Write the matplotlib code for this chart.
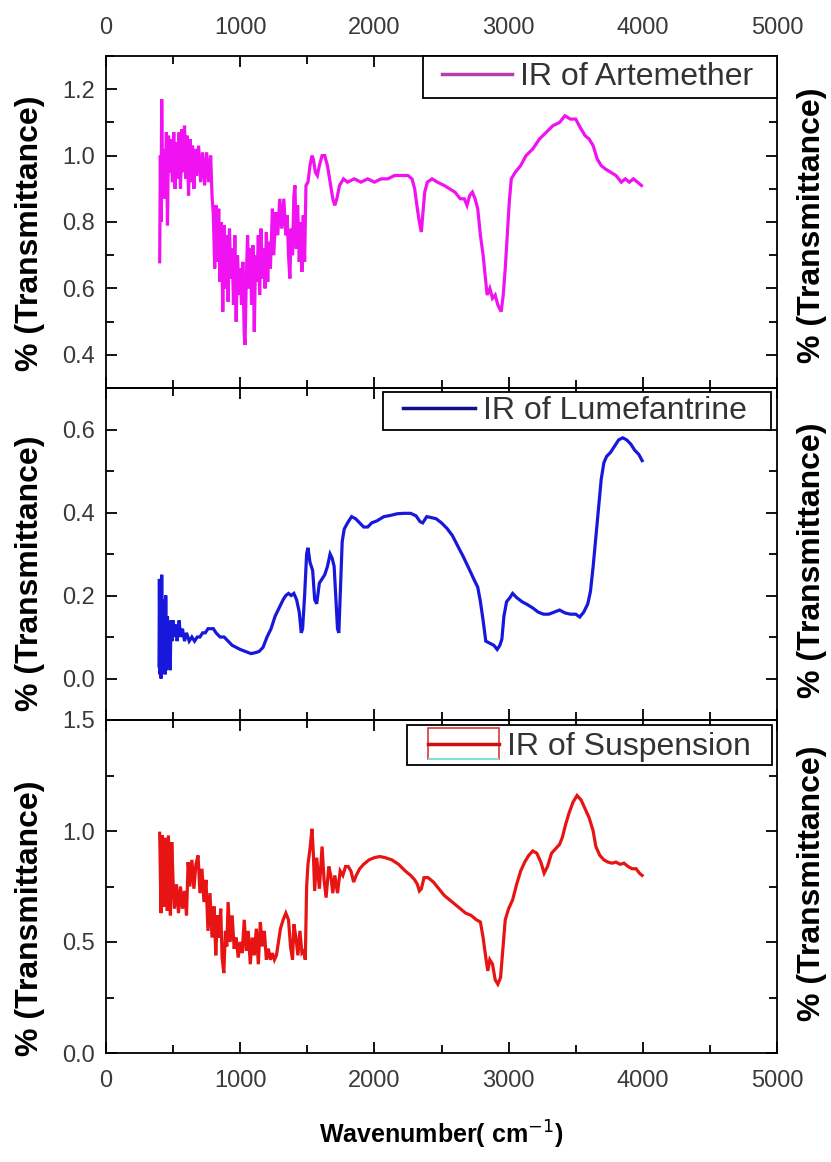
import matplotlib
matplotlib.use("Agg")
import matplotlib.pyplot as plt
from matplotlib import font_manager, ticker
from matplotlib.lines import Line2D
from matplotlib.patches import Rectangle
from matplotlib.legend_handler import HandlerBase

# --- data (wavenumber cm-1, transmittance) ---
art_wn = [400, 405, 410, 415, 422, 430, 440, 450, 458, 466, 475, 485, 495, 505, 515, 525, 535, 545,
          555, 565, 575, 585, 595, 605, 615, 625, 635, 645, 655, 665, 675, 690, 705, 720, 735, 750,
          765, 780, 790, 800, 810, 820, 830, 840, 850, 860, 870, 880, 890, 900, 910, 920, 930, 940,
          950, 960, 970, 980, 990, 1000, 1010, 1020, 1030, 1036, 1045, 1055, 1065, 1075, 1085, 1095,
          1105, 1115, 1125, 1135, 1145, 1155, 1165, 1175, 1185, 1195, 1205, 1215, 1225, 1240, 1250,
          1265, 1280, 1295, 1310, 1325, 1340, 1350, 1360, 1370, 1380, 1390, 1400, 1408, 1418, 1428,
          1440, 1450, 1460, 1470, 1480, 1490, 1505, 1520, 1535, 1545, 1560, 1575, 1590, 1610, 1630,
          1650, 1670, 1690, 1705, 1720, 1740, 1770, 1800, 1850, 1900, 1950, 2000, 2050, 2100, 2150,
          2200, 2250, 2280, 2300, 2320, 2335, 2350, 2360, 2375, 2395, 2430, 2470, 2520, 2560, 2600,
          2640, 2670, 2690, 2710, 2730, 2750, 2770, 2790, 2810, 2825, 2840, 2860, 2880, 2900, 2920,
          2945, 2960, 2975, 2990, 3005, 3020, 3050, 3090, 3130, 3180, 3230, 3280, 3330, 3380, 3420,
          3460, 3500, 3540, 3570, 3600, 3630, 3660, 3690, 3720, 3760, 3800, 3840, 3870, 3900, 3930,
          3960, 3990]
art_t = [0.68, 1.00, 0.80, 1.17, 0.90, 1.02, 0.87, 1.07, 0.79, 1.06, 0.95, 1.05, 0.92, 1.07, 0.90,
         1.04, 0.93, 1.07, 0.90, 1.08, 0.95, 1.09, 0.93, 1.06, 0.88, 1.05, 0.92, 1.03, 0.90, 1.02,
         0.94, 1.03, 0.92, 1.01, 0.91, 1.01, 0.92, 1.00, 0.88, 0.82, 0.66, 0.85, 0.68, 0.84, 0.62,
         0.80, 0.53, 0.79, 0.60, 0.76, 0.56, 0.78, 0.63, 0.72, 0.55, 0.76, 0.50, 0.70, 0.58, 0.66,
         0.55, 0.68, 0.46, 0.43, 0.62, 0.76, 0.60, 0.72, 0.55, 0.73, 0.47, 0.70, 0.62, 0.76, 0.58,
         0.78, 0.63, 0.72, 0.60, 0.77, 0.62, 0.74, 0.66, 0.84, 0.70, 0.83, 0.76, 0.87, 0.78, 0.87,
         0.76, 0.82, 0.70, 0.63, 0.78, 0.70, 0.88, 0.91, 0.72, 0.85, 0.68, 0.80, 0.65, 0.82, 0.68,
         0.91, 0.92, 0.97, 1.00, 0.99, 0.95, 0.94, 0.97, 1.00, 1.00, 0.97, 0.92, 0.87, 0.85, 0.87,
         0.91, 0.93, 0.92, 0.93, 0.92, 0.93, 0.92, 0.93, 0.93, 0.94, 0.94, 0.94, 0.93, 0.90, 0.84,
         0.80, 0.77, 0.82, 0.89, 0.92, 0.93, 0.92, 0.91, 0.90, 0.89, 0.87, 0.87, 0.85, 0.88, 0.89,
         0.87, 0.84, 0.76, 0.70, 0.64, 0.58, 0.60, 0.57, 0.58, 0.55, 0.53, 0.58, 0.66, 0.76, 0.86,
         0.93, 0.95, 0.97, 1.00, 1.02, 1.05, 1.07, 1.09, 1.10, 1.12, 1.11, 1.11, 1.08, 1.06, 1.05,
         1.03, 0.99, 0.97, 0.96, 0.95, 0.94, 0.92, 0.93, 0.92, 0.93, 0.92, 0.91]

lum_wn = [395, 398, 402, 406, 410, 415, 420, 425, 430, 435, 440, 445, 450, 458, 465, 470, 478, 485,
          492, 500, 510, 520, 530, 545, 555, 570, 585, 600, 620, 640, 660, 680, 700, 720, 740, 760,
          780, 800, 820, 850, 880, 910, 940, 970, 1000, 1040, 1080, 1110, 1140, 1170, 1200, 1230,
          1260, 1290, 1320, 1340, 1360, 1380, 1400, 1420, 1440, 1455, 1465, 1480, 1495, 1505, 1520,
          1540, 1555, 1570, 1590, 1610, 1630, 1650, 1670, 1685, 1700, 1715, 1725, 1735, 1745, 1760,
          1775, 1800, 1830, 1860, 1890, 1920, 1950, 1980, 2020, 2070, 2120, 2170, 2220, 2270, 2310,
          2340, 2360, 2390, 2420, 2460, 2500, 2540, 2580, 2620, 2660, 2700, 2740, 2770, 2790, 2810,
          2830, 2860, 2890, 2915, 2935, 2950, 2965, 2985, 3010, 3030, 3060, 3100, 3140, 3180, 3220,
          3260, 3300, 3340, 3380, 3420, 3460, 3500, 3530, 3560, 3590, 3610, 3630, 3650, 3670, 3690,
          3710, 3730, 3760, 3790, 3820, 3850, 3880, 3910, 3940, 3970, 3995]
lum_t = [0.03, 0.24, 0.01, 0.16, 0.00, 0.25, 0.02, 0.19, 0.05, 0.14, 0.01, 0.20, 0.02, 0.15, 0.05,
         0.13, 0.02, 0.14, 0.09, 0.14, 0.10, 0.13, 0.09, 0.14, 0.10, 0.12, 0.09, 0.11, 0.09, 0.10,
         0.09, 0.10, 0.10, 0.11, 0.11, 0.12, 0.12, 0.12, 0.11, 0.10, 0.10, 0.09, 0.08, 0.075, 0.07,
         0.065, 0.06, 0.062, 0.065, 0.075, 0.10, 0.12, 0.15, 0.17, 0.19, 0.20, 0.205, 0.20, 0.205,
         0.19, 0.16, 0.11, 0.12, 0.20, 0.30, 0.315, 0.28, 0.26, 0.19, 0.18, 0.23, 0.24, 0.25, 0.27,
         0.30, 0.29, 0.27, 0.18, 0.12, 0.11, 0.20, 0.33, 0.36, 0.375, 0.39, 0.385, 0.375, 0.365,
         0.365, 0.375, 0.38, 0.39, 0.393, 0.397, 0.398, 0.398, 0.392, 0.378, 0.375, 0.39, 0.388,
         0.385, 0.375, 0.362, 0.345, 0.32, 0.295, 0.268, 0.24, 0.22, 0.185, 0.14, 0.09, 0.085, 0.08,
         0.07, 0.08, 0.095, 0.15, 0.185, 0.195, 0.205, 0.195, 0.185, 0.178, 0.17, 0.16, 0.155, 0.155,
         0.16, 0.165, 0.158, 0.155, 0.155, 0.148, 0.16, 0.18, 0.21, 0.27, 0.34, 0.41, 0.48, 0.52,
         0.535, 0.545, 0.56, 0.575, 0.58, 0.575, 0.565, 0.55, 0.54, 0.525]

sus_wn = [400, 410, 420, 430, 440, 455, 465, 480, 490, 500, 510, 525, 540, 555, 570, 585, 600, 612,
          625, 640, 655, 670, 686, 700, 715, 730, 745, 760, 775, 790, 805, 818, 830, 842, 855, 865,
          878, 890, 900, 910, 925, 940, 955, 970, 985, 1000, 1015, 1030, 1045, 1060, 1075, 1090,
          1105, 1120, 1135, 1150, 1165, 1180, 1195, 1210, 1225, 1240, 1255, 1270, 1285, 1300, 1320,
          1340, 1360, 1375, 1390, 1400, 1415, 1430, 1445, 1460, 1475, 1485, 1495, 1505, 1520, 1535,
          1545, 1555, 1570, 1590, 1610, 1625, 1640, 1660, 1675, 1690, 1705, 1725, 1745, 1765, 1785,
          1805, 1825, 1845, 1865, 1890, 1920, 1960, 2000, 2040, 2080, 2130, 2180, 2230, 2270, 2300,
          2320, 2335, 2350, 2370, 2400, 2440, 2480, 2520, 2560, 2600, 2640, 2680, 2720, 2760, 2790,
          2810, 2830, 2845, 2860, 2880, 2900, 2920, 2940, 2955, 2975, 3000, 3030, 3060, 3090, 3120,
          3150, 3180, 3210, 3240, 3265, 3290, 3320, 3350, 3380, 3400, 3425, 3450, 3480, 3510, 3540,
          3570, 3600, 3630, 3650, 3680, 3710, 3740, 3770, 3800, 3830, 3860, 3890, 3920, 3950, 3975,
          3995]
sus_t = [0.99, 0.63, 0.98, 0.66, 0.97, 0.64, 0.98, 0.62, 0.95, 0.77, 0.65, 0.76, 0.63, 0.75, 0.65,
         0.73, 0.62, 0.86, 0.75, 0.87, 0.74, 0.85, 0.89, 0.72, 0.83, 0.68, 0.78, 0.55, 0.72, 0.52,
         0.66, 0.44, 0.62, 0.52, 0.65, 0.43, 0.36, 0.55, 0.48, 0.68, 0.50, 0.62, 0.47, 0.52, 0.43,
         0.50, 0.45, 0.60, 0.46, 0.55, 0.40, 0.52, 0.44, 0.56, 0.40, 0.59, 0.48, 0.55, 0.42, 0.47,
         0.42, 0.45, 0.42, 0.44, 0.50, 0.56, 0.60, 0.63, 0.60, 0.48, 0.42, 0.58, 0.52, 0.44, 0.55,
         0.45, 0.46, 0.42, 0.75, 0.85, 0.92, 1.01, 0.90, 0.73, 0.88, 0.74, 0.93, 0.78, 0.70, 0.84,
         0.80, 0.72, 0.80, 0.72, 0.82, 0.80, 0.84, 0.84, 0.82, 0.77, 0.80, 0.83, 0.85, 0.87, 0.88,
         0.885, 0.88, 0.87, 0.85, 0.82, 0.80, 0.78, 0.76, 0.73, 0.74, 0.79, 0.79, 0.77, 0.74, 0.71,
         0.69, 0.67, 0.65, 0.63, 0.62, 0.60, 0.59, 0.52, 0.43, 0.37, 0.42, 0.40, 0.33, 0.31, 0.34,
         0.45, 0.60, 0.65, 0.69, 0.76, 0.82, 0.86, 0.89, 0.91, 0.90, 0.86, 0.81, 0.84, 0.90, 0.92,
         0.94, 0.97, 1.03, 1.08, 1.13, 1.16, 1.14, 1.10, 1.06, 1.00, 0.93, 0.89, 0.87, 0.86, 0.855,
         0.86, 0.85, 0.855, 0.84, 0.83, 0.83, 0.81, 0.80]

labels = ["IR of Artemether", "IR of Lumefantrine", "IR of Suspension"]
colors = ["#f012f0", "#1818dc", "#e81414"]
legend_colors = ["#b040b0", "#10108a", "#cc1010"]
ylims = [(0.3, 1.3), (-0.1, 0.7), (0.0, 1.5)]
yticks = [[0.4, 0.6, 0.8, 1.0, 1.2], [0.0, 0.2, 0.4, 0.6], [0.0, 0.5, 1.0, 1.5]]
yminor = [0.1, 0.1, 0.25]
xticks = [0, 1000, 2000, 3000, 4000, 5000]


def pick_font():
    for fam in ("Liberation Sans Narrow", "Liberation Sans"):
        try:
            font_manager.findfont(fam, fallback_to_default=False)
            return fam
        except Exception:
            pass
    return "DejaVu Sans"


class SuspHandler(HandlerBase):
    # odd boxed handle of the reference: red outline, red line, cyan bottom edge
    def create_artists(self, legend, orig_handle, xd, yd, width, height, fontsize, trans):
        r = Rectangle((-xd, -yd), width, height, fc="none", ec="#d83a3a", lw=1.2, transform=trans)
        mid = Line2D([-xd, -xd + width], [height / 2 - yd] * 2, color="#cc1010", lw=2.5,
                     transform=trans)
        bot = Line2D([-xd + 1, -xd + width - 1], [-yd] * 2, color="#7fe0e0", lw=1.5,
                     transform=trans)
        return [r, mid, bot]


narrow = pick_font()
plt.rcParams["font.family"] = ["Liberation Sans", "DejaVu Sans"]

fig = plt.figure(figsize=(8.31, 11.62), dpi=100)
W, H = 831.0, 1162.0
AX0, AXW = 106, 671
tops = [56, 388, 720]
bots = [388, 720, 1053]
axes = []
for i in range(3):
    ax = fig.add_axes([AX0 / W, 1 - bots[i] / H, AXW / W, (bots[i] - tops[i]) / H])
    axes.append(ax)
for i, ax in enumerate(axes):
    ax.set_zorder(3 - i)

# legend frames in pixels: (left, top, right, bottom), handle start, handle length
leg_box = [(423, 56, 777, 98), (383, 392, 771, 430), (407, 725, 772, 765)]
leg_handle = [(442, 70), (403, 72), (428, 71)]
lab_y_left = [0.467, 0.443, 0.404]
lab_y_right = [0.49, 0.48, 0.51]
fs_leg = 23

series = [(art_wn, art_t), (lum_wn, lum_t), (sus_wn, sus_t)]
for i, ax in enumerate(axes):
    wn, tr = series[i]
    ax.plot(wn, tr, color=colors[i], lw=2.3, solid_joinstyle="miter")
    ax.set_xlim(0, 5000)
    ax.set_ylim(*ylims[i])
    ax.set_xticks(xticks)
    ax.set_xticks(range(500, 5000, 1000), minor=True)
    ax.set_yticks(yticks[i])
    ax.yaxis.set_minor_locator(ticker.MultipleLocator(yminor[i]))
    ax.yaxis.set_major_formatter(ticker.FormatStrFormatter("%.1f"))
    ax.tick_params(which="both", direction="in", top=True, right=True,
                   labelbottom=(i == 2), labeltop=(i == 0), width=1.3,
                   labelsize=17, labelcolor="#3a3a3a")
    ax.tick_params(axis="x", pad=12)
    ax.tick_params(axis="y", pad=8)
    ax.tick_params(which="major", length=8)
    ax.tick_params(which="minor", length=6)
    for lab in ax.get_xticklabels() + ax.get_yticklabels():
        lab.set_family(narrow)
    for sp in ax.spines.values():
        sp.set_linewidth(1.3)
    ax.text((30 - AX0) / AXW, lab_y_left[i], "% (Transmittance)", transform=ax.transAxes,
            rotation=90, ha="center", va="center", fontsize=23, fontweight="bold")
    ax.text((812 - AX0) / AXW, lab_y_right[i], "% (Transmittance)", transform=ax.transAxes,
            rotation=90, ha="center", va="center", fontsize=23, fontweight="bold")
    ax.patch.set_alpha(0)

    # legend: hand-placed frame + frameless legend inside it
    ah = bots[i] - tops[i]
    bl, bt, br, bb = leg_box[i]
    fx0 = (bl - AX0) / AXW
    fy0 = (bots[i] - bb) / ah
    ax.add_patch(Rectangle((fx0, fy0), (br - bl) / AXW, (bb - bt) / ah,
                           transform=ax.transAxes, fc="white", ec="black", lw=1.3,
                           zorder=4.9, clip_on=False))
    hx, hlen = leg_handle[i]
    fs_px = fs_leg * 100 / 72.0
    if i == 2:
        handle = Rectangle((0, 0), 1, 1)
        hmap = {Rectangle: SuspHandler()}
        hh = 1.1
    else:
        handle = Line2D([], [], color=legend_colors[i], lw=2.5)
        hmap = None
        hh = 0.7
    leg = ax.legend([handle], [labels[i]], loc="center left",
                    bbox_to_anchor=((hx - AX0) / AXW, (bots[i] - (bt + bb) / 2) / ah),
                    frameon=False, borderaxespad=0, borderpad=0,
                    handlelength=hlen / fs_px, handleheight=hh, handletextpad=8 / fs_px,
                    prop={"family": "Liberation Sans", "size": fs_leg}, handler_map=hmap)
    leg.set_zorder(5)
    for t in leg.get_texts():
        t.set_color("#333333")

fig.text((AX0 + AXW / 2) / W, 1 - 1135 / H, "Wavenumber( cm$^{-1}$)", ha="center", va="center",
         fontsize=18, fontweight="bold")

fig.savefig("out.png", dpi=100)
